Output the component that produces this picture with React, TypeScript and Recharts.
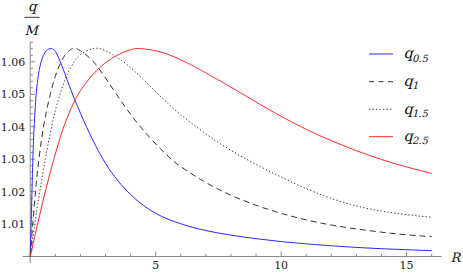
import { LineChart, Line, XAxis, YAxis, ReferenceLine } from "recharts";

// q_{0.5}
const rBlue = [0, 0.05, 0.1, 0.15, 0.2, 0.3, 0.4, 0.5, 0.6, 0.7, 0.84, 1.0, 1.25, 1.5, 1.75, 2.0, 2.5, 3.0, 3.5, 4, 4.5, 5, 6, 7, 8, 9, 10, 11, 12, 13, 14, 15, 16];
const qBlue = [1, 1.014, 1.029, 1.039, 1.046, 1.0545, 1.059, 1.0615, 1.063, 1.0638, 1.0641, 1.0632, 1.059, 1.0538, 1.0488, 1.0442, 1.0358, 1.0287, 1.0233, 1.0191, 1.0158, 1.0133, 1.0101, 1.008, 1.0066, 1.0055, 1.0046, 1.0039, 1.0033, 1.0028, 1.0024, 1.0021, 1.0018];

// q_1
const rDash = [0, 0.1, 0.2, 0.3, 0.45, 0.6, 0.8, 1.0, 1.2, 1.4, 1.69, 2.0, 2.5, 3.0, 3.5, 4.0, 4.5, 5, 5.5, 6, 7, 8, 9, 10, 11, 12, 13, 14, 15, 16];
const qDash = [1, 1.01, 1.019, 1.027, 1.036, 1.043, 1.05, 1.0555, 1.0595, 1.0622, 1.0641, 1.0634, 1.0602, 1.055, 1.0493, 1.0438, 1.039, 1.0347, 1.0309, 1.0277, 1.0228, 1.0189, 1.0158, 1.0133, 1.0113, 1.0097, 1.0085, 1.0075, 1.0067, 1.0061];

// q_{1.5}
const rDot = [0, 0.2, 0.4, 0.6, 0.8, 1.0, 1.25, 1.5, 1.75, 2.0, 2.52, 3.0, 3.5, 4.0, 4.5, 5, 5.5, 6, 7, 8, 9, 10, 11, 12, 13, 14, 15, 16];
const qDot = [1, 1.011, 1.021, 1.03, 1.038, 1.045, 1.0515, 1.0565, 1.06, 1.0622, 1.0641, 1.0634, 1.0612, 1.0582, 1.0546, 1.0508, 1.0471, 1.0437, 1.0378, 1.0327, 1.0284, 1.0245, 1.0209, 1.0179, 1.0156, 1.014, 1.0129, 1.0121];

// q_{2.5}
const rRed = [0, 0.25, 0.5, 0.75, 1.0, 1.25, 1.5, 1.75, 2.0, 2.5, 3.0, 3.5, 4.0, 4.2, 4.5, 5, 5.5, 6, 6.5, 7, 8, 9, 10, 11, 12, 13, 14, 15, 16];
const qRed = [1, 1.0085, 1.0168, 1.0245, 1.0316, 1.038, 1.0433, 1.0476, 1.0511, 1.0561, 1.0597, 1.0622, 1.0637, 1.0641, 1.064, 1.0634, 1.0623, 1.0606, 1.0587, 1.0566, 1.0522, 1.0476, 1.0432, 1.0392, 1.0357, 1.0326, 1.0299, 1.0276, 1.0256];

const xLabelTicks = [5, 10, 15];
const xMinorTicks = [1, 2, 3, 4, 6, 7, 8, 9, 11, 12, 13, 14, 16];
const yLabelTicks = [1.01, 1.02, 1.03, 1.04, 1.05, 1.06];
const yMinorTicks = [1.002, 1.004, 1.006, 1.008, 1.012, 1.014, 1.016, 1.018, 1.022, 1.024, 1.026, 1.028, 1.032, 1.034, 1.036, 1.038, 1.042, 1.044, 1.046, 1.048, 1.052, 1.054, 1.056, 1.058, 1.062, 1.064, 1.066];

const series = [
  { name: "0.5", r: rBlue, q: qBlue, color: "#2a2aff", dash: undefined, legendDash: undefined, curve: "monotone" },
  { name: "1", r: rDash, q: qDash, color: "#333333", dash: "6 4", legendDash: "5 4.5", curve: "natural" },
  { name: "1.5", r: rDot, q: qDot, color: "#333333", dash: "1.3 2.2", legendDash: "1.3 2.2", curve: "natural" },
  { name: "2.5", r: rRed, q: qRed, color: "#ff2a2a", dash: undefined, legendDash: undefined, curve: "natural" },
];

const toRows = (r: number[], q: number[]) => r.map((x, i) => ({ r: x, q: q[i] }));

const serif = "DejaVu Serif";
const axisColor = "#8a8a8a";

const XTick = (props: any) => (
  <text x={props.x} y={props.y} dy={6.4} textAnchor="middle" fontFamily={serif} fontSize={11} fill="#222">
    {props.payload.value}
  </text>
);

const YTick = (props: any) => (
  <text x={props.x + 2.5} y={props.y} dy={4} textAnchor="end" fontFamily={serif} fontSize={11} fill="#222">
    {Number(props.payload.value).toFixed(2)}
  </text>
);

// slanted serif text (the italic face is not available)
const Slant = ({ x, y, size, anchor, children }: any) => (
  <g transform={`translate(${x},${y}) skewX(-14)`}>
    <text x={0} y={0} textAnchor={anchor} fontFamily={serif} fontSize={size} fill="#111">
      {children}
    </text>
  </g>
);

function Overlay() {
  const rows = [54, 81.7, 109.3, 136.7];
  return (
    <svg width={463} height={273} style={{ position: "absolute", left: 0, top: 0, pointerEvents: "none" }}>
      <Slant x={32.3} y={10.5} size={13.5} anchor="middle">q</Slant>
      <line x1={24.5} x2={39.5} y1={17.3} y2={17.3} stroke="#000" strokeWidth={0.8} />
      <Slant x={31.2} y={35} size={13} anchor="middle">M</Slant>
      <Slant x={450.5} y={262} size={13}>R</Slant>
      {series.map((s, i) => (
        <g key={s.name}>
          <line x1={369} x2={393} y1={rows[i]} y2={rows[i]} stroke={s.color} strokeWidth={1} strokeDasharray={s.legendDash} />
          <Slant x={403.5} y={rows[i] + 4.2} size={14.5}>
            q<tspan fontSize={10} dy={3.3}>{s.name}</tspan>
          </Slant>
        </g>
      ))}
    </svg>
  );
}

export default function App() {
  return (
    <div style={{ position: "fixed", left: 0, top: 0, width: 463, height: 273, background: "#fff" }}>
      <LineChart width={463} height={273} margin={{ top: 41.7, right: 21.3, bottom: 0, left: 0 }}>
        <XAxis
          dataKey="r"
          type="number"
          domain={[-0.3, 16.4]}
          ticks={xLabelTicks}
          interval={0}
          allowDataOverflow
          axisLine={false}
          tickLine={false}
          tickSize={0}
          tickMargin={0}
          height={10}
          tick={<XTick />}
        />
        <YAxis
          type="number"
          domain={[0.998, 1.0662]}
          ticks={yLabelTicks}
          interval={0}
          allowDataOverflow
          axisLine={false}
          tickLine={false}
          tickSize={0}
          tickMargin={0}
          width={22.7}
          tick={<YTick />}
        />
        <ReferenceLine y={1} stroke={axisColor} strokeWidth={1} />
        <ReferenceLine x={0} stroke={axisColor} strokeWidth={1} />
        {xMinorTicks.map((t) => (
          <ReferenceLine key={"xm" + t} segment={[{ x: t, y: 1 }, { x: t, y: 1.00083 }]} stroke={axisColor} />
        ))}
        {xLabelTicks.map((t) => (
          <ReferenceLine key={"xM" + t} segment={[{ x: t, y: 1 }, { x: t, y: 1.00154 }]} stroke={axisColor} />
        ))}
        {yMinorTicks.map((t) => (
          <ReferenceLine key={"ym" + t} segment={[{ x: 0, y: t }, { x: 0.108, y: t }]} stroke={axisColor} />
        ))}
        {yLabelTicks.map((t) => (
          <ReferenceLine key={"yM" + t} segment={[{ x: 0, y: t }, { x: 0.2, y: t }]} stroke={axisColor} />
        ))}
        {series.map((s) => (
          <Line
            key={s.name}
            data={toRows(s.r, s.q)}
            dataKey="q"
            type={s.curve as any}
            stroke={s.color}
            strokeWidth={1}
            strokeDasharray={s.dash}
            dot={false}
            activeDot={false}
            isAnimationActive={false}
          />
        ))}
      </LineChart>
      <Overlay />
    </div>
  );
}
